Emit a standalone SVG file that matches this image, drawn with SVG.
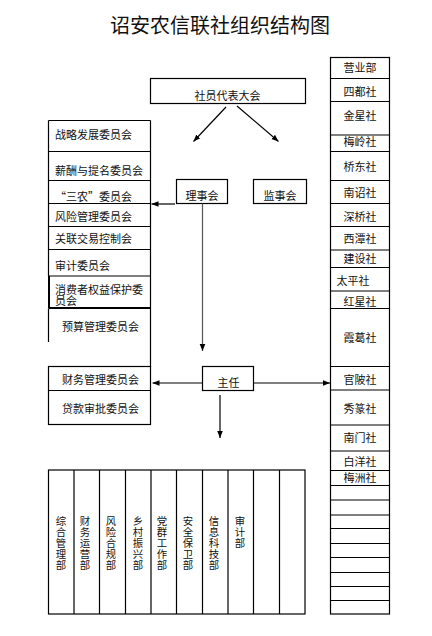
<svg xmlns="http://www.w3.org/2000/svg" width="432" height="636" viewBox="0 0 432 636">
<style>
.b{fill:none;stroke:#000;stroke-width:1.2}
.l{stroke:#000;stroke-width:1.2;fill:none}
.t{font-family:"Noto Sans CJK SC","Liberation Sans",sans-serif;font-size:11px;fill:#111;dominant-baseline:central}
.c{text-anchor:middle}
.ti{font-family:"Noto Sans CJK SC","Liberation Sans",sans-serif;font-size:20px;fill:#111;text-anchor:middle;dominant-baseline:central}
.v{font-family:"Noto Sans CJK SC","Liberation Sans",sans-serif;font-size:10.4px;fill:#111;writing-mode:vertical-rl;text-orientation:upright;letter-spacing:0.6px}
</style>
<defs>
<marker id="ah" viewBox="0 0 10 10" refX="10" refY="5" markerWidth="7" markerHeight="7" markerUnits="userSpaceOnUse" orient="auto">
<path d="M0,1 L10,5 L0,9 Z" fill="#000"/>
</marker>
</defs>
<rect width="432" height="636" fill="#fff"/>
<text class="ti" x="220" y="24">诏安农信联社组织结构图</text>

<g id="assembly">
<rect class="b" x="150.5" y="78.5" width="155" height="25"/>
<text class="t c" x="227.5" y="95">社员代表大会</text>
</g>
<g id="board">
<rect class="b" x="176.5" y="179.5" width="51" height="24"/>
<text class="t c" x="202" y="195">理事会</text>
</g>
<g id="supervisors">
<rect class="b" x="253.5" y="179.5" width="53" height="24"/>
<text class="t c" x="280" y="195">监事会</text>
</g>
<g id="director">
<rect class="b" x="202.5" y="366.5" width="51" height="24"/>
<text class="t c" x="228.5" y="382">主任</text>
</g>

<g id="committees">
<path class="l" d="M48.5,120.5 H150.5 M150.5,120.5 V367 M48.5,120.5 V276 M48.5,151.5 H150.5 M48.5,180.5 H150.5 M48.5,203.5 H150.5 M48.5,226.5 H150.5 M48.5,249.5 H150.5 M48.5,276 H150.5 M48.5,308.5 V342"/>
<path class="l" style="stroke-width:2" d="M49,276 V308 M48.5,308 H150.5"/>
<text class="t" x="55" y="134">战略发展委员会</text>
<text class="t" x="55" y="169.5">薪酬与提名委员会</text>
<text class="t" x="55" y="196">“三农”委员会</text>
<text class="t" x="55" y="216">风险管理委员会</text>
<text class="t" x="55" y="238">关联交易控制会</text>
<text class="t" x="55" y="265">审计委员会</text>
<text class="t" x="55" y="288.5">消费者权益保护委</text>
<text class="t" x="55" y="300">员会</text>
<text class="t" x="62" y="326">预算管理委员会</text>
</g>

<g id="finance-committees">
<rect class="b" x="48.5" y="366.5" width="102" height="58"/>
<path class="l" d="M48.5,390.5 H150.5"/>
<text class="t" x="62" y="379">财务管理委员会</text>
<text class="t" x="62" y="408">贷款审批委员会</text>
</g>

<g id="branches">
<rect class="b" x="330.5" y="57.5" width="59" height="556.5"/>
<path class="l" d="M330.5,78.5 H389.5 M330.5,101.5 H389.5 M330.5,135 H389.5 M330.5,151.5 H389.5 M330.5,180.5 H389.5 M330.5,203.5 H389.5 M330.5,226.5 H389.5 M330.5,250 H389.5 M330.5,267.5 H389.5 M330.5,291 H389.5 M330.5,308.5 H389.5 M330.5,366.5 H389.5 M330.5,390 H389.5 M330.5,425 H389.5 M330.5,451 H389.5 M330.5,470.5 H389.5 M330.5,485.5 H389.5 M330.5,500 H389.5 M330.5,515 H389.5 M330.5,528.5 H389.5 M330.5,543.5 H389.5 M330.5,557.5 H389.5 M330.5,572.5 H389.5 M330.5,586.5 H389.5 M330.5,600.5 H389.5"/>
<text class="t c" x="360" y="66.5">营业部</text>
<text class="t c" x="360" y="90.5">四都社</text>
<text class="t c" x="360" y="115">金星社</text>
<text class="t c" x="360" y="140.5">梅岭社</text>
<text class="t c" x="360" y="166">桥东社</text>
<text class="t c" x="360" y="192">南诏社</text>
<text class="t c" x="360" y="215.5">深桥社</text>
<text class="t c" x="360" y="238">西潭社</text>
<text class="t c" x="360" y="257.5">建设社</text>
<text class="t c" x="353" y="279.5">太平社</text>
<text class="t c" x="360" y="300.5">红星社</text>
<text class="t c" x="360" y="336.5">霞葛社</text>
<text class="t c" x="360" y="379">官陂社</text>
<text class="t c" x="360" y="408">秀篆社</text>
<text class="t c" x="360" y="437">南门社</text>
<text class="t c" x="360" y="460.5">白洋社</text>
<text class="t c" x="360" y="477">梅洲社</text>
</g>

<g id="departments">
<rect class="b" x="48.5" y="470" width="256.5" height="144"/>
<path class="l" d="M74,470 V614 M99.5,470 V614 M125.5,470 V614 M151,470 V614 M176.5,470 V614 M202.5,470 V614 M228,470 V614 M253.5,470 V614 M279.5,470 V614"/>
<text class="v" x="61" y="516">综合管理部</text>
<text class="v" x="85" y="515.5">财务运营部</text>
<text class="v" x="111" y="515.5">风险合规部</text>
<text class="v" x="138" y="515.5">乡村振兴部</text>
<text class="v" x="162" y="515.5">党群工作部</text>
<text class="v" x="188" y="515.5">安全保卫部</text>
<text class="v" x="214" y="515.5">信息科技部</text>
<text class="v" x="240" y="515.5">审计部</text>
</g>

<g id="connectors">
<line class="l" x1="226" y1="107" x2="193.5" y2="141.5" marker-end="url(#ah)"/>
<line class="l" x1="237" y1="106" x2="278.5" y2="141.5" marker-end="url(#ah)"/>
<line class="l" x1="175" y1="204" x2="151.5" y2="204" marker-end="url(#ah)"/>
<line class="l" x1="202.5" y1="203.5" x2="202.5" y2="351" marker-end="url(#ah)" style="stroke:#555"/>
<line class="l" x1="202" y1="383" x2="152.5" y2="383" marker-end="url(#ah)"/>
<line class="l" x1="253.5" y1="383" x2="330" y2="383" marker-end="url(#ah)"/>
<line class="l" x1="220" y1="395" x2="220" y2="438" marker-end="url(#ah)"/>
</g>
</svg>
